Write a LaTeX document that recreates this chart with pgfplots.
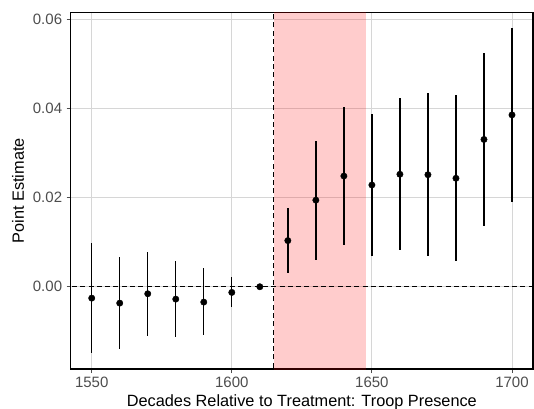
\documentclass[border=0pt]{standalone}
\usepackage{pgfplots}
\pgfplotsset{compat=1.18}
\usepackage{pgfplotstable}
\usepackage{fontspec}
\setmainfont{Liberation Sans}

\definecolor{gridgray}{RGB}{214,214,214}
\definecolor{ticktext}{RGB}{77,77,77}

% Event-study estimates with 95% confidence bounds
\pgfplotstableread{
year   est       lo        hi
1550  -0.00255  -0.01490   0.00981
1560  -0.00367  -0.01400   0.00667
1570  -0.00157  -0.01094   0.00772
1580  -0.00277  -0.01130   0.00577
1590  -0.00344  -0.01080   0.00412
1600  -0.00127  -0.00449   0.00210
1610   0.00000   0.00000   0.00000
1620   0.01034   0.00300   0.01770
1630   0.01940   0.00607   0.03270
1640   0.02480   0.00944   0.04020
1650   0.02280   0.00682   0.03860
1660   0.02520   0.00816   0.04220
1670   0.02510   0.00682   0.04330
1680   0.02430   0.00569   0.04290
1690   0.03300   0.01356   0.05240
1700   0.03850   0.01888   0.05800
}\estimates

\begin{document}
\begin{tikzpicture}
\useasboundingbox (-70.7pt,-39pt) rectangle (463.3pt,369pt);
\begin{axis}[
  at={(0,0)}, anchor=south west,
  scale only axis,
  width=462.3pt, height=356.3pt,
  xmin=1542.5, xmax=1707.5,
  ymin=-0.01843, ymax=0.0614,
  xtick={1550,1600,1650,1700},
  ytick={0,0.02,0.04,0.06},
  xtick pos=lower, ytick pos=left,
  tick align=outside,
  major tick length=4pt,
  tick style={color=ticktext, line width=0.9pt},
  grid=major,
  major grid style={color=gridgray, line width=0.9pt},
  axis line style={black, line width=1.1pt},
  tick label style={font=\fontsize{15}{18}\selectfont, text=ticktext, inner sep=0pt},
  /pgf/number format/assume math mode=true,
  xticklabel style={/pgf/number format/1000 sep={}, yshift=-3.7pt},
  yticklabel style={/pgf/number format/.cd, fixed, fixed zerofill, precision=2, /tikz/.cd, xshift=-4.4pt},
  scaled y ticks=false,
  clip=true,
]
  % treatment window
  \fill[red, opacity=0.2] (axis cs:1615,-0.02) rectangle (axis cs:1648,0.07);
  % reference lines
  \draw[black, line width=1.2pt, dash pattern=on 5pt off 3.3pt] (axis cs:1615,-0.02) -- (axis cs:1615,0.07);
  \draw[black, line width=1.2pt, dash pattern=on 5pt off 3.3pt] (axis cs:1540,0) -- (axis cs:1710,0);
  % point estimates with confidence intervals
  \addplot[only marks, mark=*, mark size=3.2pt, black,
    error bars/.cd, y dir=both, y explicit, error mark=none,
    error bar style={line width=1.35pt, black}]
    table[x=year, y=est,
      y error plus expr=\thisrow{hi}-\thisrow{est},
      y error minus expr=\thisrow{est}-\thisrow{lo}] {\estimates};
\end{axis}
\node[anchor=base, font=\fontsize{16.3}{19}\selectfont] at (231.15pt,-37pt) {Decades Relative to Treatment: Troop Presence};
\node[anchor=base, rotate=90, font=\fontsize{16.3}{19}\selectfont] at (-46.7pt,178.15pt) {Point Estimate};
\end{tikzpicture}
\end{document}
